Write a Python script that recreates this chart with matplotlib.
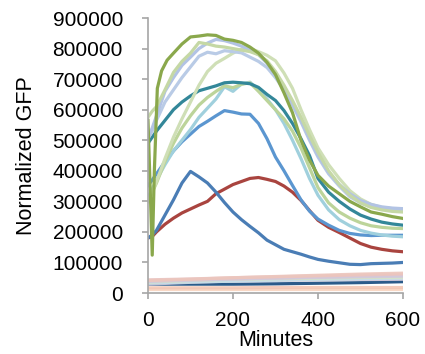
import matplotlib
matplotlib.use("Agg")
import matplotlib.pyplot as plt
from matplotlib.ticker import FuncFormatter

plt.rcParams['font.family'] = ['Liberation Sans', 'DejaVu Sans']

# common time grid (minutes)
T = [0, 10, 20, 40, 60, 80, 100, 120, 140, 160, 180, 200, 220, 240, 260, 280,
     300, 320, 340, 360, 380, 400, 425, 450, 475, 500, 525, 550, 575, 600]

# olive curve has its own early dip
olive_t = [0, 5, 10, 15, 22, 32, 45, 60, 80, 100, 120, 140, 160, 180, 200, 220, 240,
           260, 280, 300, 320, 340, 360, 380, 400, 425, 450, 475, 500, 525, 550, 575, 600]
olive = [565000, 350000, 124000, 400000, 670000, 727000, 762000, 785000, 815000, 838000,
         841000, 845000, 843000, 831000, 827000, 820000, 805000, 785000, 755000, 715000,
         655000, 590000, 500000, 435000, 385000, 350000, 325000, 300000, 282000, 265000,
         258000, 250000, 244000]

lavender1 = [510000, 540000, 580000, 660000, 705000, 745000, 772000, 800000, 818000, 830000,
             826000, 818000, 808000, 795000, 780000, 752000, 715000, 670000, 620000, 565000,
             505000, 450000, 395000, 355000, 325000, 303000, 290000, 282000, 278000, 276000]
lavender2 = [505000, 530000, 565000, 625000, 665000, 705000, 740000, 775000, 788000, 783000,
             793000, 790000, 786000, 772000, 758000, 738000, 705000, 665000, 615000, 560000,
             500000, 445000, 390000, 350000, 315000, 295000, 282000, 276000, 272000, 270000]
lightgreen1 = [575000, 595000, 610000, 665000, 722000, 758000, 785000, 820000, 815000, 808000,
               805000, 800000, 795000, 790000, 780000, 760000, 725000, 680000, 630000, 575000,
               515000, 460000, 400000, 355000, 320000, 295000, 280000, 272000, 267000, 265000]
palegreen = [300000, 330000, 365000, 440000, 510000, 570000, 625000, 680000, 725000, 752000,
             768000, 785000, 798000, 800000, 790000, 778000, 760000, 720000, 670000, 600000,
             535000, 475000, 420000, 375000, 335000, 308000, 290000, 280000, 276000, 275000]
teal = [490000, 510000, 530000, 565000, 600000, 625000, 645000, 662000, 670000, 678000,
        688000, 690000, 688000, 685000, 673000, 650000, 630000, 597000, 555000, 505000,
        450000, 375000, 330000, 300000, 275000, 255000, 242000, 232000, 226000, 222000]
lightgreen3 = [300000, 330000, 360000, 430000, 490000, 540000, 580000, 615000, 640000, 660000,
               678000, 672000, 683000, 688000, 660000, 630000, 600000, 570000, 530000, 475000,
               410000, 345000, 295000, 265000, 245000, 230000, 220000, 215000, 212000, 211000]
lightblue = [314000, 340000, 370000, 420000, 465000, 500000, 535000, 575000, 605000, 635000,
             675000, 660000, 684000, 690000, 665000, 635000, 600000, 555000, 500000, 440000,
             375000, 320000, 272000, 240000, 220000, 205000, 196000, 190000, 186000, 184000]
midblue = [352000, 370000, 390000, 430000, 465000, 495000, 520000, 545000, 562000, 580000,
           597000, 592000, 586000, 585000, 555000, 505000, 445000, 400000, 352000, 305000,
           268000, 242000, 222000, 205000, 195000, 190000, 188000, 189000, 189000, 189000]
darkblue = [180000, 190000, 205000, 255000, 305000, 360000, 398000, 380000, 360000, 330000,
            296000, 265000, 240000, 218000, 197000, 173000, 158000, 143000, 135000, 127000,
            118000, 110000, 104000, 99000, 94000, 93000, 96000, 97000, 98000, 100000]
red = [180000, 185000, 200000, 225000, 245000, 262000, 275000, 288000, 300000, 325000,
       340000, 355000, 365000, 375000, 378000, 372000, 365000, 350000, 330000, 303000,
       270000, 238000, 215000, 198000, 180000, 162000, 150000, 143000, 138000, 135000]

# low-level series
low_t = [0, 100, 200, 300, 400, 500, 600]
low_navy = [29000, 29000, 29000, 30000, 32000, 34000, 37000]
low_peach = [12000, 12000, 12000, 12000, 12000, 12000, 12000]
low_salmon = [17000, 17000, 17000, 18000, 18000, 18000, 18000]
low_cover = [29000, 35000, 39000, 41000, 43000, 44000, 45000]
low_lblue = [33000, 36000, 39000, 42000, 45000, 47000, 49000]
low_green = [36000, 41000, 45000, 47000, 49000, 51000, 52000]
low_lav = [38000, 42000, 46000, 49000, 52000, 55000, 57000]
low_gray = [40000, 43000, 46000, 49000, 51000, 53000, 55000]
low_pink = [43000, 46000, 50000, 53000, 56000, 59000, 62000]
low_rose = [41000, 45000, 50000, 54000, 58000, 62000, 65000]

fig = plt.figure(figsize=(4.25, 3.54), dpi=100)
ax = fig.add_axes([0.3482, 0.1723, 0.6, 0.7768])

lw = 2.3
ax.plot(low_t, low_navy, color='#2b5b8a', lw=lw)
for vals, c in [(low_peach, '#f9d4bf'), (low_salmon, '#f2c6b4'), (low_cover, '#d2cbdc'),
                (low_lblue, '#c5dfe8'), (low_green, '#d8e4c0'), (low_lav, '#cfc5dd'),
                (low_gray, '#d3cadb'), (low_pink, '#e9c4c3'), (low_rose, '#ecc6bd')]:
    ax.plot(low_t, vals, color=c, lw=lw, alpha=0.9)

ax.plot(T, red, color='#a9443f', lw=lw)
ax.plot(T, darkblue, color='#4a7db5', lw=lw)
ax.plot(T, midblue, color='#5b96d0', lw=lw)
ax.plot(T, lightblue, color='#a0d0dd', lw=lw)
ax.plot(T, lightgreen3, color='#bcd49a', lw=lw)
ax.plot(T, teal, color='#338799', lw=lw)
ax.plot(T, palegreen, color='#cfdfb6', lw=lw)
ax.plot(T, lavender2, color='#b9cbe6', lw=lw)
ax.plot(T, lavender1, color='#b2c3e4', lw=lw)
ax.plot(T, lightgreen1, color='#c5d8a5', lw=lw)
ax.plot(olive_t, olive, color='#8aa84c', lw=lw)

ax.set_xlim(0, 600)
ax.set_ylim(0, 900000)
ax.set_xticks([0, 200, 400, 600])
ax.set_yticks(range(0, 900001, 100000))
ax.yaxis.set_major_formatter(FuncFormatter(lambda v, p: f"{int(v)}"))

for s in ['top', 'right']:
    ax.spines[s].set_visible(False)
for s in ['left', 'bottom']:
    ax.spines[s].set_color('#a6a6a6')
    ax.spines[s].set_linewidth(1.2)

ax.tick_params(axis='both', direction='out', length=4, width=1.2, color='#a6a6a6',
               labelsize=15, labelcolor='black')
ax.tick_params(axis='y', pad=14)
ax.tick_params(axis='x', pad=9)

ax.set_xlabel('Minutes', fontsize=15.5, labelpad=0)
ax.set_ylabel('Normalized GFP', fontsize=15.5, labelpad=11)

fig.savefig('out.png', dpi=100)
